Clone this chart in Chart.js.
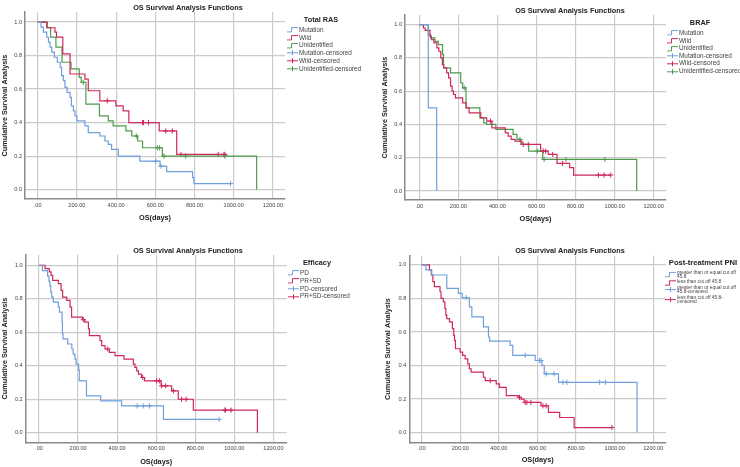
<!DOCTYPE html>
<html>
<head>
<meta charset="utf-8">
<script src="https://cdn.jsdelivr.net/npm/chart.js@4.4.0/dist/chart.umd.min.js"></script>
<style>
  body { margin: 0; background: #fff; font-family: "Liberation Sans", Arial, sans-serif; }
  .panel { position: absolute; width: 370px; height: 233px; }
  .panel canvas { position: absolute; left: 0; top: 0; }
  .ttl { position: absolute; font-weight: bold; font-size: 7.3px; color: #222; white-space: nowrap; transform: translate(-50%, -50%); }
  .row { position: absolute; display: flex; align-items: center; transform: translateY(-50%); font-size: 6.4px; color: #444; white-space: nowrap; line-height: 1; }
  .row svg { margin-right: 1px; flex: none; }
  .row.small { font-size: 4.8px; line-height: 4.4px; }
</style>
</head>
<body>
<div class="panel" id="p1" style="left:0;top:0"><canvas id="c1" width="370" height="233"></canvas></div>
<div class="panel" id="p2" style="left:370px;top:0"><canvas id="c2" width="370" height="233"></canvas></div>
<div class="panel" id="p3" style="left:0;top:234px"><canvas id="c3" width="370" height="233"></canvas></div>
<div class="panel" id="p4" style="left:370px;top:234px"><canvas id="c4" width="370" height="233"></canvas></div>
<script>
// --- dados (dias do evento -> sobrevida apos o evento) ---
const xTicks = [0, 200, 400, 600, 800, 1000, 1200];
const yTicks = [0, 0.2, 0.4, 0.6, 0.8, 1.0];

// Total RAS
const rasMutT = [17, 29, 46, 55, 63, 72, 85, 100, 115, 122, 131, 139, 150, 165, 172, 182, 190, 200, 241, 258, 317, 343, 360, 377, 411, 521, 624, 658, 790, 797];
const rasMutS = [0.97, 0.94, 0.91, 0.88, 0.85, 0.82, 0.79, 0.76, 0.73, 0.68, 0.65, 0.61, 0.58, 0.55, 0.50, 0.47, 0.44, 0.41, 0.38, 0.34, 0.32, 0.29, 0.27, 0.24, 0.20, 0.17, 0.14, 0.107, 0.072, 0.036];
const rasMutC = [602, 628, 984];
const rasWildT = [46, 88, 96, 128, 165, 241, 258, 317, 399, 436, 465, 620, 709];
const rasWildS = [0.966, 0.94, 0.91, 0.81, 0.69, 0.66, 0.59, 0.53, 0.50, 0.47, 0.40, 0.35, 0.21];
const rasWildC = [355, 535, 540, 565, 653, 687, 731, 921, 950, 955];
const rasUnT = [49, 66, 93, 124, 170, 212, 222, 246, 315, 360, 385, 450, 480, 510, 535, 636, 1117];
const rasUnS = [0.967, 0.91, 0.85, 0.76, 0.72, 0.67, 0.64, 0.51, 0.44, 0.41, 0.38, 0.35, 0.32, 0.29, 0.25, 0.20, 0];
const rasUnC = [232, 503, 610, 622, 644, 755, 955];

// BRAF
const brafMutT = [46, 89];
const brafMutS = [0.5, 0];
const brafMutC = [];
const brafWildT = [21, 30, 55, 62, 75, 90, 100, 110, 118, 125, 140, 150, 160, 168, 175, 185, 222, 240, 255, 315, 345, 372, 440, 455, 470, 490, 525, 621, 660, 705, 770, 790];
const brafWildS = [0.98, 0.965, 0.93, 0.91, 0.89, 0.86, 0.84, 0.80, 0.76, 0.74, 0.71, 0.68, 0.63, 0.60, 0.58, 0.56, 0.53, 0.50, 0.47, 0.44, 0.42, 0.38, 0.35, 0.33, 0.31, 0.30, 0.28, 0.24, 0.22, 0.166, 0.14, 0.096];
const brafWildC = [365, 532, 558, 635, 647, 683, 734, 917, 946, 980];
const brafUnT = [46, 58, 80, 97, 119, 124, 160, 212, 222, 239, 310, 330, 345, 392, 480, 500, 520, 560, 632, 1113];
const brafUnS = [0.94, 0.92, 0.90, 0.88, 0.82, 0.74, 0.71, 0.65, 0.62, 0.50, 0.44, 0.41, 0.40, 0.37, 0.34, 0.31, 0.28, 0.24, 0.19, 0];
const brafUnC = [230, 515, 604, 639, 751, 950];

// Efficacy
const pdT = [17, 44, 51, 56, 60, 65, 73, 99, 105, 118, 120, 123, 147, 168, 175, 184, 190, 203, 206, 243, 316, 423, 637];
const pdS = [0.968, 0.935, 0.905, 0.875, 0.84, 0.81, 0.78, 0.75, 0.72, 0.66, 0.59, 0.56, 0.53, 0.50, 0.47, 0.44, 0.41, 0.375, 0.31, 0.22, 0.19, 0.16, 0.08];
const pdC = [503, 534, 565, 922];
const prT = [31, 53, 62, 70, 99, 113, 121, 142, 159, 167, 222, 235, 253, 258, 312, 321, 338, 360, 389, 435, 483, 491, 500, 509, 525, 540, 625, 679, 713, 790, 1118];
const prS = [0.98, 0.96, 0.94, 0.91, 0.89, 0.85, 0.81, 0.79, 0.75, 0.69, 0.675, 0.66, 0.62, 0.58, 0.55, 0.52, 0.50, 0.48, 0.46, 0.44, 0.41, 0.39, 0.37, 0.35, 0.33, 0.31, 0.28, 0.25, 0.20, 0.135, 0];
const prC = [227, 352, 531, 602, 616, 628, 648, 688, 730, 753, 952, 955, 983];

// Post-treatment PNI
const pniHiT = [22, 52, 130, 190, 210, 247, 260, 320, 346, 352, 458, 472, 588, 623, 635, 709, 1116];
const pniHiS = [0.97, 0.94, 0.86, 0.83, 0.805, 0.75, 0.69, 0.63, 0.57, 0.545, 0.52, 0.46, 0.43, 0.40, 0.35, 0.30, 0];
const pniHiC = [230, 536, 610, 618, 645, 686, 732, 752, 922, 952];
const pniLoT = [40, 50, 58, 66, 95, 100, 112, 120, 125, 130, 144, 159, 166, 170, 175, 199, 212, 225, 239, 247, 256, 320, 329, 386, 403, 438, 500, 515, 531, 618, 657, 715, 790];
const pniLoS = [0.97, 0.94, 0.90, 0.87, 0.84, 0.80, 0.78, 0.74, 0.70, 0.68, 0.66, 0.62, 0.58, 0.55, 0.50, 0.48, 0.46, 0.44, 0.41, 0.38, 0.36, 0.33, 0.31, 0.29, 0.27, 0.22, 0.21, 0.20, 0.18, 0.16, 0.12, 0.09, 0.03];
const pniLoC = [355, 507, 536, 545, 566, 628, 645, 986];

const AZUL = '#6f9fdc', VERM = '#d0285a', VERDE = '#4f9a4c';
const FONTE = '"Liberation Sans", Arial, sans-serif';

function curva(T, S, C) {
  const pts = [{ x: 0, y: 1 }];
  T.forEach((t, i) => pts.push({ x: t, y: S[i] }));
  const fim = Math.max(T[T.length - 1], ...C);
  if (fim > T[T.length - 1]) pts.push({ x: fim, y: S[S.length - 1] });
  return pts;
}
function survEm(T, S, t) {
  let s = 1;
  T.forEach((ti, i) => { if (ti <= t) s = S[i]; });
  return s;
}

function montar(id, g, series) {
  const datasets = [];
  series.forEach(s => {
    datasets.push({ data: curva(s.T, s.S, s.C), showLine: true, stepped: true, borderColor: s.cor, borderWidth: 1.2, pointRadius: 0 });
  });
  series.forEach(s => {
    datasets.push({ data: s.C.map(t => ({ x: t, y: survEm(s.T, s.S, t) })), showLine: false, pointStyle: 'cross', pointRadius: 2.6, borderColor: s.cor, borderWidth: 1, pointHoverRadius: 0 });
  });
  new Chart(document.getElementById(id), {
    type: 'scatter',
    data: { datasets },
    options: {
      responsive: false,
      animation: false,
      events: [],
      layout: { padding: { left: 0, top: g.top, right: 370 - g.right, bottom: 0 } },
      plugins: { legend: { display: false }, tooltip: { enabled: false } },
      scales: {
        x: {
          type: 'linear', min: g.xmin, max: g.xmax,
          afterBuildTicks: sc => { sc.ticks = xTicks.map(v => ({ value: v })); },
          afterFit: sc => { sc.height = 233 - g.bottom; },
          grid: { color: '#cbcbcb', lineWidth: 1.2, drawTicks: false },
          border: { color: '#8a8a8a', width: 1.5 },
          ticks: { padding: 3, maxRotation: 0, autoSkip: false, color: '#444', font: { family: FONTE, size: 5.6 },
            callback: v => v === 0 ? '.00' : v.toFixed(2) },
          title: { display: true, text: 'OS(days)', color: '#222', font: { family: FONTE, size: 7.3, weight: 'bold' },
            padding: { top: 0, bottom: g.xTit } }
        },
        y: {
          type: 'linear', min: g.ymin, max: g.ymax,
          afterBuildTicks: sc => { sc.ticks = yTicks.map(v => ({ value: v })); },
          afterFit: sc => { sc.width = g.left; },
          grid: { color: '#cbcbcb', lineWidth: 1.2, drawTicks: false },
          border: { color: '#8a8a8a', width: 1.5 },
          ticks: { padding: 3, color: '#444', font: { family: FONTE, size: 5.6 }, callback: v => v.toFixed(1) },
          title: { display: true, text: 'Cumulative Survival Analysis', color: '#222', font: { family: FONTE, size: 7.3, weight: 'bold' },
            padding: { top: g.yTit, bottom: 0 } }
        }
      }
    }
  });
}

function icone(tipo, cor) {
  const d = tipo === 'step' ? 'M0 5.2H4.5V0.8H11' : 'M0 3H11M5.5 0.4V5.6';
  return `<svg width="11" height="6" viewBox="0 0 11 6"><path d="${d}" stroke="${cor}" stroke-width="1" fill="none"/></svg>`;
}
function legenda(painel, titulo, tx, ty, ix, linhas, pequena) {
  const p = document.getElementById(painel);
  const t = document.createElement('div');
  t.className = 'ttl';
  t.style.left = tx + 'px'; t.style.top = ty + 'px';
  if (pequena) t.style.fontSize = '7.6px';
  t.textContent = titulo;
  p.appendChild(t);
  linhas.forEach(([tipo, cor, txt, y]) => {
    const r = document.createElement('div');
    r.className = 'row' + (pequena ? ' small' : '');
    r.style.left = ix + 'px'; r.style.top = y + 'px';
    r.innerHTML = icone(tipo, cor) + '<span>' + txt + '</span>';
    p.appendChild(r);
  });
}
function tituloPainel(painel, x, y) {
  const t = document.createElement('div');
  t.className = 'ttl';
  t.style.left = x + 'px'; t.style.top = y + 'px';
  t.textContent = 'OS Survival Analysis Functions';
  document.getElementById(painel).appendChild(t);
}

montar('c1', { left: 25, right: 285, top: 12, bottom: 199, xmin: -64.8, xmax: 1261.7, ymin: -0.056, ymax: 1.06, yTit: 1.1, xTit: 10.6 }, [
  { T: rasMutT, S: rasMutS, C: rasMutC, cor: AZUL },
  { T: rasWildT, S: rasWildS, C: rasWildC, cor: VERM },
  { T: rasUnT, S: rasUnS, C: rasUnC, cor: VERDE }
]);
montar('c2', { left: 35, right: 296, top: 15, bottom: 200, xmin: -73.2, xmax: 1263, ymin: -0.054, ymax: 1.058, yTit: 10.6, xTit: 9.6 }, [
  { T: brafMutT, S: brafMutS, C: brafMutC, cor: AZUL },
  { T: brafWildT, S: brafWildS, C: brafWildC, cor: VERM },
  { T: brafUnT, S: brafUnS, C: brafUnC, cor: VERDE }
]);
montar('c3', { left: 25.7, right: 286.7, top: 20.7, bottom: 208.3, xmin: -68.1, xmax: 1268, ymin: -0.057, ymax: 1.063, yTit: 0.6, xTit: 1.1 }, [
  { T: pdT, S: pdS, C: pdC, cor: AZUL },
  { T: prT, S: prS, C: prC, cor: VERM }
]);
montar('c4', { left: 39.3, right: 296, top: 21.7, bottom: 208.3, xmin: -64.2, xmax: 1266, ymin: -0.058, ymax: 1.055, yTit: 13.6, xTit: 3.1 }, [
  { T: pniHiT, S: pniHiS, C: pniHiC, cor: AZUL },
  { T: pniLoT, S: pniLoS, C: pniLoC, cor: VERM }
]);

tituloPainel('p1', 188, 7);
tituloPainel('p2', 200, 10);
tituloPainel('p3', 188, 15.7);
tituloPainel('p4', 200, 16);

legenda('p1', 'Total RAS', 321, 19, 287, [
  ['step', AZUL, 'Mutation', 30], ['step', VERM, 'Wild', 37.7], ['step', VERDE, 'Unidentified', 45.3],
  ['cross', AZUL, 'Mutation-censored', 52.7], ['cross', VERM, 'Wild-censored', 61], ['cross', VERDE, 'Unidentified-censored', 69]
]);
legenda('p2', 'BRAF', 330, 22, 297, [
  ['step', AZUL, 'Mutation', 33], ['step', VERM, 'Wild', 41], ['step', VERDE, 'Unidentified', 48.3],
  ['cross', AZUL, 'Mutation-censored', 56], ['cross', VERM, 'Wild-censored', 63.3], ['cross', VERDE, 'Unidentified-censored', 71.3]
]);
legenda('p3', 'Efficacy', 317, 28, 288, [
  ['step', AZUL, 'PD', 39], ['step', VERM, 'PR+SD', 47],
  ['cross', AZUL, 'PD-censored', 54.7], ['cross', VERM, 'PR+SD-censored', 62.3]
]);
legenda('p4', 'Post-treatment PNI', 333, 28, 295, [
  ['step', AZUL, 'greater than or equal cut off<br>45.8', 41], ['step', VERM, 'less than cut off 45.8', 48.5],
  ['cross', AZUL, 'greater than or equal cut off<br>45.8-censored', 55.5], ['cross', VERM, 'less than cut off 45.8-<br>censored', 66]
], true);
</script>
</body>
</html>
